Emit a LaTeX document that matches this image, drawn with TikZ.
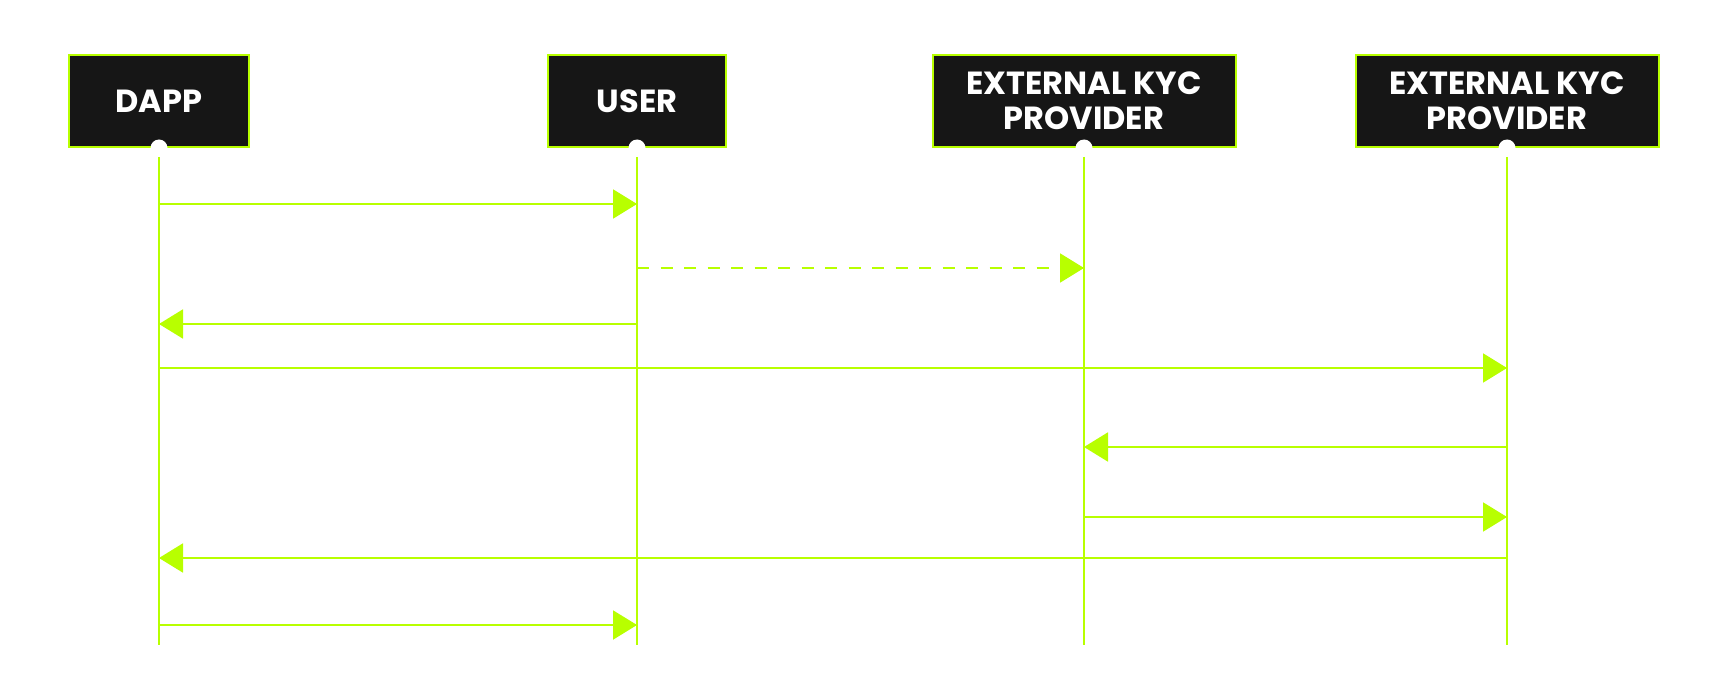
\documentclass[tikz,border=0pt]{standalone}
\usepackage{fontspec}
\usepackage{xcolor}
\usetikzlibrary{arrows.meta}
\newfontfamily\actorfont{Poppins}
\definecolor{lime}{HTML}{B8FF00}
\definecolor{boxblack}{HTML}{161616}

\tikzset{
  actor/.style={draw=lime, line width=1pt, fill=boxblack, text=white,
    font=\actorfont\bfseries\fontsize{16}{17.5}\selectfont,
    align=center, inner sep=0pt, minimum height=46pt},
  lifeline/.style={draw=lime, line width=1pt},
  msg/.style={draw=lime, line width=1pt, -{Triangle[length=12pt,width=14.5pt]}, lime},
  reply/.style={msg, dash pattern=on 6pt off 5.75pt},
  knob/.style={circle, fill=white, inner sep=0pt, minimum size=8.5pt}
}

\begin{document}
\begin{tikzpicture}[x=0.5pt, y=-0.5pt]
  \useasboundingbox[fill=white] (0,0) rectangle (1728,700);

  % heads of the four lifelines
  \node[actor, minimum width=90pt] (dapp) at (159,101) {DAPP};
  \node[actor, minimum width=89pt] (user) at (637,101) {USER};
  \node[actor, minimum width=151.5pt] (kycA) at (1084,101) {EXTERNAL KYC\\PROVIDER};
  \node[actor, minimum width=151.5pt] (kycB) at (1507,101) {EXTERNAL KYC\\PROVIDER};

  % lower ends
  \coordinate (dappEnd) at (159,645);
  \coordinate (userEnd) at (637,645);
  \coordinate (kycAEnd) at (1084,645);
  \coordinate (kycBEnd) at (1507,645);

  \draw[lifeline] (dapp.south) ++(0,9) -- (dappEnd);
  \draw[lifeline] (user.south) ++(0,9) -- (userEnd);
  \draw[lifeline] (kycA.south) ++(0,9) -- (kycAEnd);
  \draw[lifeline] (kycB.south) ++(0,9) -- (kycBEnd);

  \node[knob] at (dapp.south) {};
  \node[knob] at (user.south) {};
  \node[knob] at (kycA.south) {};
  \node[knob] at (kycB.south) {};

  % messages, top to bottom
  \draw[msg] (dapp |- 0,204) -- (user |- 0,204);
  \draw[reply] (user |- 0,268) -- (kycA |- 0,268);
  \draw[msg] (user |- 0,324) -- (dapp |- 0,324);
  \draw[msg] (dapp |- 0,368) -- (kycB |- 0,368);
  \draw[msg] (kycB |- 0,447) -- (kycA |- 0,447);
  \draw[msg] (kycA |- 0,517) -- (kycB |- 0,517);
  \draw[msg] (kycB |- 0,558) -- (dapp |- 0,558);
  \draw[msg] (dapp |- 0,625) -- (user |- 0,625);
\end{tikzpicture}
\end{document}
